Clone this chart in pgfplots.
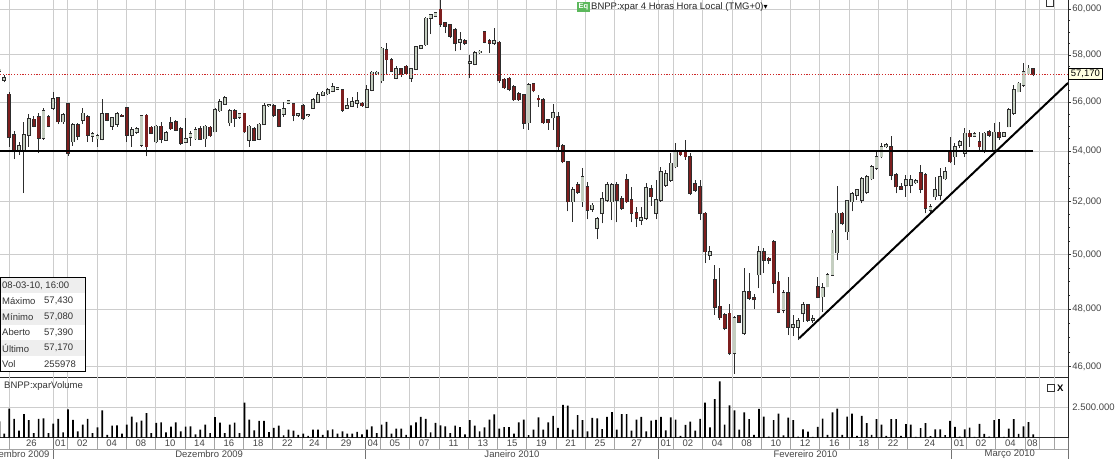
\documentclass[border=0pt]{standalone}
\usepackage{pgfplots}
\usepackage{pgfplotstable}
\pgfplotsset{compat=1.18}
\usepackage{fontspec}
\setmainfont{Liberation Sans}
\setsansfont{Liberation Sans}
\newfontfamily\symfont{DejaVu Sans}

\definecolor{bearfill}{RGB}{125,30,30}
\definecolor{bullfill}{RGB}{196,206,192}
\definecolor{outl}{RGB}{45,45,45}
\definecolor{gridc}{RGB}{205,205,205}
\definecolor{txt}{RGB}{70,70,70}
\definecolor{dotred}{RGB}{205,40,40}
\definecolor{eqgreen}{RGB}{92,184,92}
\definecolor{rowgray}{RGB}{238,238,238}
\definecolor{lblyellow}{RGB}{255,255,225}
\newcommand\sm{\fontsize{9.5}{11}\selectfont}

% i open high low close  (EUR, 4-hour bars)
\pgfplotstableread{
i o h l c
-11 57.30 57.45 57.22 57.38
-10 56.92 57.13 56.83 57.02
-9 56.32 56.43 54.17 54.57
-8 54.65 54.82 53.67 53.97
-7 54.05 54.35 53.85 54.20
-6 54.05 55.19 52.33 54.65
-5 54.65 55.49 54.17 55.29
-4 55.28 55.44 54.95 55.01
-3 55.40 55.53 53.91 54.51
-2 54.51 55.74 54.44 55.64
-1 55.40 55.45 54.95 55.01
0 55.74 56.43 55.67 56.13
1 56.16 56.23 55.09 55.19
2 55.19 55.55 55.10 55.47
3 55.92 55.95 53.80 53.91
4 54.37 55.12 54.20 55.05
5 55.05 55.12 54.44 54.60
6 55.26 55.74 55.10 55.53
7 55.40 55.45 54.37 54.65
8 54.60 54.75 54.37 54.70
9 54.50 54.70 54.15 54.62
10 54.48 56.12 54.42 55.50
11 55.50 55.55 55.20 55.26
12 55.00 55.40 54.85 55.35
13 55.10 55.60 54.98 55.50
14 55.45 55.50 55.38 55.42
15 55.75 55.80 54.37 54.65
16 54.65 54.95 54.17 54.85
17 54.75 54.95 54.70 54.90
18 54.24 55.45 54.17 55.43
19 55.45 55.50 53.78 54.17
20 54.95 55.00 54.68 54.72
21 54.37 55.05 54.30 55.00
22 55.00 55.19 54.30 54.48
23 54.44 54.80 54.40 54.72
24 55.15 55.40 54.85 54.90
25 55.19 55.25 54.80 54.85
26 54.90 54.95 54.25 54.30
27 54.35 55.35 54.30 54.50
28 54.55 54.80 54.20 54.70
29 54.50 54.95 54.45 54.85
30 54.90 55.00 54.44 54.48
31 54.50 55.05 54.17 55.00
32 54.95 55.00 54.55 54.62
33 54.78 55.75 54.75 55.67
34 55.64 56.12 55.60 56.02
35 55.92 56.25 55.90 56.17
36 55.15 55.70 55.00 55.64
37 55.64 55.70 54.98 55.33
38 55.36 55.55 55.30 55.50
39 55.53 55.55 54.72 54.78
40 54.44 55.05 54.17 55.00
41 54.90 54.95 54.40 54.44
42 54.48 55.15 54.42 55.08
43 55.08 55.95 55.05 55.85
44 55.85 55.90 55.80 55.88
45 55.85 55.92 55.40 55.47
46 55.67 55.70 54.95 55.00
47 55.50 56.00 55.40 55.70
48 55.95 56.10 55.90 56.05
49 55.92 55.95 55.20 55.47
50 55.45 55.55 55.40 55.50
51 55.85 55.90 55.25 55.33
52 55.45 55.50 55.40 55.46
53 55.74 56.15 55.70 56.10
54 56.00 56.40 55.95 56.30
55 56.30 56.45 56.25 56.40
56 56.35 56.60 56.30 56.50
57 56.45 56.78 56.40 56.65
58 56.55 56.65 56.50 56.60
59 56.50 56.55 55.60 55.67
60 55.75 56.15 55.70 55.85
61 55.82 56.20 55.80 56.00
62 55.95 56.40 55.75 56.05
63 55.95 56.00 55.80 55.85
64 55.80 56.70 55.78 56.50
65 56.50 57.30 56.45 57.25
66 57.20 57.30 57.15 57.25
67 56.90 58.35 56.78 58.28
68 58.21 58.50 57.20 57.80
69 57.80 57.85 57.25 57.30
70 57.00 57.50 56.95 57.40
71 57.40 57.45 57.05 57.15
72 57.50 57.55 57.15 57.20
73 57.00 57.45 56.85 57.40
74 57.40 58.40 57.35 58.35
75 58.30 58.45 58.25 58.40
76 58.44 59.65 58.40 59.60
77 59.60 59.80 58.90 59.75
78 59.70 59.90 59.65 59.85
79 60.00 60.42 59.22 59.35
80 59.40 59.45 58.95 59.25
81 59.30 59.35 58.75 58.82
82 59.10 59.15 58.15 58.50
83 58.55 59.00 58.20 58.65
84 58.60 58.70 58.45 58.50
85 57.65 58.00 57.00 57.70
86 57.60 58.15 57.55 58.10
87 58.10 58.20 58.05 58.15
88 59.00 59.05 58.50 58.55
89 58.60 58.70 58.10 58.50
90 58.50 59.15 58.45 58.60
91 58.55 58.60 56.80 56.90
92 56.95 57.00 56.55 56.60
93 57.00 57.05 56.45 56.55
94 56.65 56.70 56.05 56.10
95 56.35 56.40 56.05 56.10
96 56.30 56.35 54.90 55.13
97 55.15 56.80 54.85 56.72
98 56.75 56.80 56.40 56.47
99 56.15 56.30 55.80 56.10
100 56.10 56.15 55.10 55.15
101 55.25 55.30 54.85 55.15
102 55.35 55.90 54.85 55.55
103 55.40 55.60 54.00 54.17
104 54.20 54.28 53.50 53.57
105 53.55 53.60 51.62 52.00
106 52.00 52.58 51.22 52.45
107 52.65 52.75 52.30 52.38
108 52.00 53.30 51.80 52.97
109 52.58 52.78 51.32 51.68
110 51.70 51.95 51.60 51.85
111 50.97 51.40 50.56 51.35
112 51.55 52.38 51.16 52.12
113 52.06 52.75 52.00 52.65
114 52.00 52.72 51.29 52.65
115 52.65 52.75 51.20 52.06
116 52.12 52.20 51.68 51.74
117 52.84 53.10 51.94 52.00
118 52.06 52.58 51.20 51.55
119 51.58 51.80 51.04 51.36
120 51.30 51.80 51.10 51.38
121 51.38 52.74 51.30 52.52
122 52.48 52.65 51.83 52.19
123 51.55 52.84 51.32 52.06
124 52.06 53.37 52.00 53.17
125 52.64 53.24 52.58 53.10
126 52.84 53.90 52.78 53.50
127 53.37 54.32 53.30 53.97
128 54.00 54.05 53.78 53.85
129 53.97 54.44 53.64 53.77
130 53.77 53.90 52.25 52.32
131 52.70 52.84 52.38 52.45
132 52.58 52.84 51.29 51.55
133 51.55 51.60 49.67 50.10
134 49.98 50.30 49.80 50.10
135 49.05 49.60 47.80 48.09
136 48.10 49.50 47.62 47.70
137 47.80 47.85 47.26 47.32
138 47.85 48.20 46.40 46.45
139 46.45 47.75 45.75 47.68
140 47.75 47.80 47.50 47.55
141 47.15 49.48 47.10 48.63
142 48.63 49.30 48.33 48.39
143 48.40 48.55 48.00 48.35
144 49.25 50.30 48.75 50.10
145 50.10 50.22 49.30 49.79
146 49.85 49.90 49.65 49.80
147 50.45 50.54 48.57 48.93
148 49.00 49.36 47.85 47.91
149 47.97 48.69 47.85 48.57
150 48.57 49.15 47.08 47.38
151 47.38 47.80 47.05 47.44
152 47.38 47.68 46.91 47.58
153 47.85 48.27 47.56 48.15
154 48.15 48.20 47.56 47.62
155 47.60 47.80 47.50 47.65
156 48.81 49.17 48.39 48.43
157 48.45 48.93 47.90 48.75
158 48.81 49.30 48.78 49.23
159 49.23 50.91 49.20 50.78
160 50.06 52.60 49.80 51.55
161 51.55 51.60 51.10 51.16
162 50.85 52.06 50.54 52.03
163 52.00 52.39 51.62 52.30
164 52.26 52.48 52.06 52.45
165 52.06 52.97 51.94 52.90
166 52.38 53.05 52.30 52.97
167 52.90 53.45 52.84 53.37
168 53.30 54.04 53.24 53.77
169 53.77 54.33 53.70 54.17
170 54.17 54.30 54.10 54.24
171 54.17 54.60 52.84 53.04
172 53.04 53.11 52.32 52.58
173 52.58 52.71 52.45 52.50
174 52.64 53.04 52.19 52.84
175 52.64 53.04 52.32 52.84
176 52.74 52.87 52.70 52.80
177 53.11 53.44 52.32 52.50
178 53.04 53.11 51.55 51.74
179 51.68 51.90 51.55 51.80
180 52.19 52.97 52.06 52.45
181 52.26 53.30 52.06 52.97
182 52.90 53.37 52.84 53.17
183 53.97 54.58 53.50 53.57
184 53.77 54.31 53.44 54.17
185 54.24 54.44 54.10 54.37
186 53.91 54.91 53.77 54.71
187 54.71 54.85 54.17 54.58
188 54.60 54.75 54.55 54.68
189 54.37 54.78 53.97 54.17
190 53.97 54.78 53.91 54.71
191 54.78 54.85 54.58 54.65
192 54.04 55.12 53.97 54.75
193 54.75 55.19 54.44 54.55
194 54.60 54.78 54.55 54.72
195 54.98 55.75 54.95 55.67
196 55.53 56.72 55.47 56.50
197 56.43 56.85 56.40 56.79
198 56.72 57.64 56.64 57.28
199 57.20 57.56 57.15 57.42
200 57.39 57.43 57.08 57.17
}\ohlc
\pgfplotstablecreatecol[create col/expr={min(\thisrow{o},\thisrow{c})}]{bot}{\ohlc}
\pgfplotstablecreatecol[create col/expr={abs(\thisrow{c}-\thisrow{o})}]{body}{\ohlc}
\pgfplotstablecreatecol[create col/expr={min(\thisrow{o},\thisrow{c})-0.03}]{obot}{\ohlc}
\pgfplotstablecreatecol[create col/expr={abs(\thisrow{c}-\thisrow{o})+0.06}]{obody}{\ohlc}
\pgfplotstablecreatecol[create col/expr={\thisrow{h}-\thisrow{l}}]{rng}{\ohlc}
\pgfplotstablecreatecol[create col/expr={\thisrow{c}>=\thisrow{o}}]{up}{\ohlc}

% i volume (millions of shares)
\pgfplotstableread{
i v
-11 1.33
-10 0.31
-9 2.36
-8 1.53
-7 0.56
-6 1.92
-5 1.42
-4 0.36
-3 1.53
-2 1.56
-1 0.36
0 1.14
1 1.53
2 0.42
3 2.31
4 1.44
5 0.50
6 1.06
7 1.53
8 0.36
9 0.83
10 2.22
11 0.22
12 0.97
13 1.00
14 0.31
15 1.06
16 1.72
17 1.25
18 1.39
19 2.00
20 0.36
21 1.19
22 1.25
23 0.42
24 0.89
25 1.25
26 0.50
27 0.89
28 0.92
29 0.25
30 0.64
31 1.06
32 0.36
33 1.67
34 1.22
35 0.36
36 1.06
37 1.22
38 0.36
39 2.86
40 1.47
41 0.58
42 1.36
43 1.36
44 0.44
45 0.78
46 0.97
47 0.17
48 0.64
49 0.56
50 0.22
51 0.31
52 0.14
53 0.64
54 0.64
55 0.22
56 0.58
57 0.67
58 0.31
59 0.50
60 0.31
61 0.31
62 0.47
63 0.25
64 0.64
65 0.92
66 0.36
67 1.06
68 1.28
69 0.31
70 0.72
71 0.72
72 0.22
73 1.00
74 1.25
75 1.69
76 1.53
77 0.42
78 1.19
79 1.00
80 0.92
81 0.36
82 0.97
83 0.86
84 0.25
85 1.42
86 0.97
87 0.50
88 0.83
89 1.47
90 1.89
91 0.72
92 0.86
93 0.86
94 0.31
95 1.25
96 1.47
97 0.19
98 0.64
99 1.64
100 0.64
101 1.25
102 1.78
103 0.78
104 2.67
105 2.61
106 0.64
107 1.83
108 1.42
109 0.50
110 1.61
111 1.56
112 0.69
113 1.69
114 2.08
115 0.64
116 1.92
117 1.92
118 0.56
119 1.47
120 1.69
121 0.50
122 1.39
123 1.44
124 1.69
125 0.58
126 1.64
127 1.47
128 0.14
129 1.03
130 1.31
131 0.56
132 1.53
133 2.86
134 0.83
135 3.14
136 4.61
137 1.06
138 2.64
139 2.22
140 0.64
141 2.07
142 1.50
143 0.22
144 2.34
145 1.71
146 0.08
147 1.42
148 1.95
149 0.17
150 1.63
151 1.42
152 0.08
153 0.67
154 0.49
155 0.06
156 0.88
157 1.54
158 0.22
159 2.07
160 2.37
161 0.22
162 1.71
163 1.95
164 0.14
165 1.77
166 1.18
167 0.22
168 1.50
169 1.06
170 0.14
171 1.50
172 1.50
173 0.14
174 1.09
175 1.06
176 0.06
177 0.76
178 1.18
179 0.11
180 0.67
181 0.67
182 0.20
183 1.36
184 0.88
185 0.08
186 0.67
187 0.82
188 0.06
189 1.12
190 0.29
191 0.08
192 1.42
193 1.50
194 0.06
195 0.73
196 1.50
197 0.29
198 0.91
199 1.27
200 0.26
}\vol

\def\seps{-8.96,0,2.93,8.91,14.89,20.87,26.85,32.83,38.81,44.79,50.77,55.76,63.73,66.72,72.70,78.68,84.66,90.64,96.62,102.60,108.58,114.56,123.53,126.52,132.50,138.49,144.47,150.45,156.43,162.41,168.39,174.37,183.34,186.33,192.31,198.29,201.28,204.27}

\pgfplotsset{
  candle/.style n args={3}{draw=none, mark=none, #1,
    error bars/.cd, y dir=plus, y explicit, error mark=none,
    error bar style={draw=#2, line width=#3}},
}

\begin{document}
\begin{tikzpicture}
\useasboundingbox (0,0) rectangle (1115pt,458pt);
\fill[white] (0,0) rectangle (1115pt,458pt);

% ---------------- price panel ----------------
\begin{axis}[
  at={(0pt,81pt)}, anchor=south west,
  width=1068pt, height=377pt, scale only axis,
  xmin=-10.88, xmax=207.08,
  ymode=log, ymin=45.64, ymax=60.42,
  axis x line=bottom, axis y line=right,
  axis line style={-, black!85, line width=0.8pt},
  xtick/.expanded=\seps,
  xticklabels={},
  xtick style={draw=none},
  ytick={46,48,50,52,54,56,58,60},
  yticklabels={{46,000},{48,000},{50,000},{52,000},{54,000},{56,000},{58,000},{60,000}},
  minor ytick={46.5,47,47.5,48.5,49,49.5,50.5,51,51.5,52.5,53,53.5,54.5,55,55.5,56.5,57,57.5,58.5,59,59.5},
  tick align=outside,
  major tick length=3pt, minor tick length=2pt,
  ytick style={black!80, line width=0.6pt},
  xmajorgrids, ymajorgrids,
  major grid style={gridc, line width=0.7pt},
  yticklabel style={font=\sm, text=txt, inner sep=1.2pt},
  clip mode=individual,
]
% wicks
\addplot[candle={}{outl}{1pt}] table[x=i, y=l, y error plus=rng] {\ohlc};
% bullish bodies
\addplot[candle={restrict expr to domain={\thisrow{up}}{0.5:2}}{outl}{3.8pt}]
  table[x=i, y=obot, y error plus=obody] {\ohlc};
\addplot[candle={restrict expr to domain={\thisrow{up}}{0.5:2}}{bullfill}{2.3pt}]
  table[x=i, y=bot, y error plus=body] {\ohlc};
% bearish bodies
\addplot[candle={restrict expr to domain={\thisrow{up}}{-1:0.5}}{outl}{3.8pt}]
  table[x=i, y=obot, y error plus=obody] {\ohlc};
\addplot[candle={restrict expr to domain={\thisrow{up}}{-1:0.5}}{bearfill}{2.3pt}]
  table[x=i, y=bot, y error plus=body] {\ohlc};
% last price, support and trend lines
\addplot[dotred, line width=1pt, dash pattern=on 1.2pt off 1.6pt] coordinates {(-10.88,57.17) (207.08,57.17)};
\addplot[black, line width=1.8pt] coordinates {(-10.88,54.0) (200,54.0)};
\addplot[black, line width=2.2pt] coordinates {(147.3,54.0) (200,54.0)};
\addplot[black, line width=2pt] coordinates {(152.2,46.97) (207.08,56.80)};
\node[draw=black, fill=lblyellow, font=\sm, inner xsep=2.5pt, inner ysep=1.6pt, anchor=west, line width=0.6pt]
  at (axis cs:207.08,57.17) {57,170};
\end{axis}

% ---------------- volume panel ----------------
\begin{axis}[
  at={(0pt,20.5pt)}, anchor=south west,
  width=1068pt, height=60.5pt, scale only axis,
  xmin=-10.88, xmax=207.08, ymin=0, ymax=4.96,
  axis x line=bottom, axis y line=right,
  axis line style={-, black!85, line width=0.8pt},
  xtick/.expanded=\seps,
  xticklabels={}, xtick style={draw=none},
  ytick={2.5}, yticklabels={2.500.000}, ytick style={draw=none},
  tick align=outside, major tick length=3pt,
  xmajorgrids, ymajorgrids,
  major grid style={gridc, line width=0.7pt},
  yticklabel style={font=\sm, text=txt, inner sep=1.2pt},
  clip mode=individual,
]
\addplot[ybar, bar width=1.7pt, fill=black, draw=none] table[x=i, y=v] {\vol};
% date row separators
\pgfplotsinvokeforeach{-8.96,0,2.93,8.91,14.89,20.87,26.85,32.83,38.81,44.79,50.77,55.76,63.73,66.72,72.70,78.68,84.66,90.64,96.62,102.60,108.58,114.56,123.53,126.52,132.50,138.49,144.47,150.45,156.43,162.41,168.39,174.37,183.34,186.33,192.31,198.29,201.28,204.27}{
  \draw[gridc!80!black, line width=0.7pt] (axis cs:#1,0) -- ++(0pt,-11.8pt);
}
\pgfplotsinvokeforeach{0,63.73,123.53,183.34,207.08}{
  \draw[black!55, line width=0.8pt] (axis cs:#1,0) -- ++(0pt,-21pt);
}
\draw[gridc!80!black, line width=0.7pt] (axis cs:-10.88,0) ++(0pt,-11.8pt) -- ++(1068pt,0pt);
\foreach \x/\l in {-4.48/26,1.47/01,5.92/02,11.90/04,17.88/08,23.86/10,29.84/14,35.82/16,41.80/18,47.78/22,53.27/24,59.75/29,65.23/04,69.71/05,75.69/07,81.67/11,87.65/13,93.63/15,99.61/19,105.59/21,111.57/25,119.05/27,125.03/01,129.51/02,135.50/04,141.48/08,147.46/10,153.44/12,159.42/16,165.40/18,171.38/22,178.86/24,184.84/01,189.32/02,195.30/04,199.79/08}{
  \edef\tmp{\noexpand\node[font=\noexpand\sm, text=txt, inner sep=0pt, yshift=-5.9pt] at (axis cs:\x,0) {\l};}\tmp
}
\foreach \x/\l in {-7.7/Novembro 2009,31.8/Dezembro 2009,93.6/Janeiro 2010,153.5/Fevereiro 2010,195.2/Março 2010}{
  \edef\tmp{\noexpand\node[font=\noexpand\sm, text=txt, inner sep=0pt, yshift=-16.3pt] at (axis cs:\x,0) {\l};}\tmp
}
\end{axis}

% ---------------- annotations ----------------
\node[fill=eqgreen, text=white, font=\fontsize{7.5}{8}\selectfont\bfseries, inner sep=0pt,
  minimum width=13pt, minimum height=10pt] at (583.5pt,451.3pt) {Eq};
\node[anchor=base west, font=\sm, text=black!85, inner sep=0pt] at (591pt,448.5pt)
  {BNPP:xpar 4 Horas Hora Local (TMG+0)};
\node[anchor=base west, font=\symfont\fontsize{8}{9}\selectfont, inner sep=0pt] at (763.5pt,448.5pt) {▾};
\draw[black!80, line width=0.7pt] (1046.5pt,452pt) rectangle (1053.5pt,459pt);

\node[anchor=base west, font=\sm, text=black!80, inner sep=0pt] at (4pt,70pt) {BNPP:xparVolume};
\draw[black!80, line width=0.7pt] (1047pt,67pt) rectangle (1054pt,74pt);
\node[anchor=base west, font=\sm\bfseries, inner sep=0pt] at (1057pt,67pt) {X};

% info box
\fill[white] (0pt,86.3pt) rectangle (85pt,180.3pt);
\fill[rowgray] (0pt,164.63pt) rectangle (85pt,180.3pt);
\fill[rowgray] (0pt,133.3pt) rectangle (85pt,148.97pt);
\fill[rowgray] (0pt,101.97pt) rectangle (85pt,117.63pt);
\draw[black, line width=0.8pt] (0pt,86.3pt) rectangle (85pt,180.3pt);
\begin{scope}[every node/.style={font=\sm, text=black!80, inner sep=0pt, anchor=west}]
\node at (2pt,172.5pt) {08-03-10, 16:00};
\node at (2pt,156.8pt) {Máximo};   \node at (44pt,156.8pt) {57,430};
\node at (2pt,141.1pt) {Mínimo};   \node at (44pt,141.1pt) {57,080};
\node at (2pt,125.5pt) {Aberto};   \node at (44pt,125.5pt) {57,390};
\node at (2pt,109.8pt) {Último};   \node at (44pt,109.8pt) {57,170};
\node at (2pt,94.2pt) {Vol};       \node at (44pt,94.2pt) {255978};
\end{scope}
\end{tikzpicture}
\end{document}
